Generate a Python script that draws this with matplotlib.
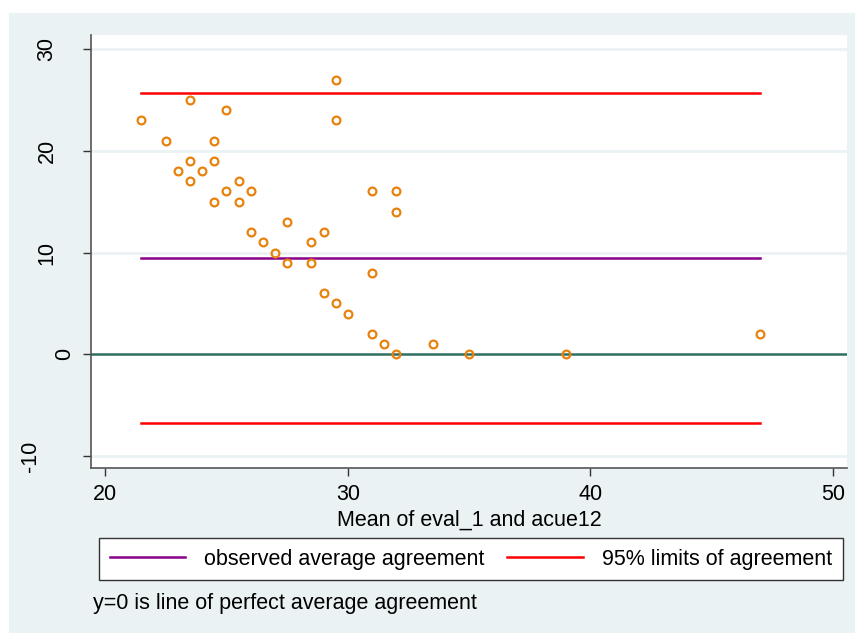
import matplotlib
matplotlib.use('Agg')
import matplotlib.pyplot as plt
from matplotlib.lines import Line2D
from matplotlib.patches import Rectangle
import matplotlib.transforms as mtransforms

plt.rcParams['font.family'] = ['Liberation Sans', 'DejaVu Sans']

# DATA: mean of the two evaluations vs. their difference
mean_vals = [21.5, 22.5, 23.5, 25, 23, 23.5, 23.5, 24, 24.5, 24.5, 24.5, 25, 25.5, 25.5,
             26, 26, 26.5, 27, 27.5, 27.5, 28.5, 28.5, 29, 29, 29.5, 30, 29.5, 29.5,
             31, 31, 31, 31.5, 32, 32, 32, 33.5, 35, 39, 47]
diff_vals = [23, 21, 25, 24, 18, 19, 17, 18, 21, 19, 15, 16, 17, 15,
             16, 12, 11, 10, 13, 9, 11, 9, 12, 6, 5, 4, 27, 23,
             16, 8, 2, 1, 16, 14, 0, 1, 0, 0, 2]
mean_diff = 9.43
lower_loa = -6.78
upper_loa = 25.65
line_span = [21.5, 47]

xticks = [20, 30, 40, 50]
yticks = [-10, 0, 10, 20, 30]

BG = '#EAF2F3'
W, H = 855, 633
FS = 15.5

fig = plt.figure(figsize=(8.55, 6.33), dpi=100)
fig.patch.set_facecolor('white')
fig.patches.append(Rectangle((9 / W, 0), 1 - 9 / W, (H - 13) / H, transform=fig.transFigure,
                             facecolor=BG, edgecolor='none', zorder=-10))

ax = fig.add_axes([91 / W, 1 - 468 / H, (847 - 91) / W, (468 - 35) / H])
ax.set_facecolor('white')
ax.set_xlim(19.42, 50.57)
ax.set_ylim(-11.18, 31.38)

# grid lines
for yv in yticks:
    if yv != 0:
        ax.axhline(yv, color=BG, lw=2, zorder=1)

ax.axhline(0, color='#2F6E63', lw=1.8, zorder=2)
ax.plot(line_span, [mean_diff, mean_diff], color='#8B008B', lw=1.8, zorder=3)
ax.plot(line_span, [upper_loa, upper_loa], color='#FF0000', lw=1.8, zorder=3)
ax.plot(line_span, [lower_loa, lower_loa], color='#FF0000', lw=1.8, zorder=3)
ax.plot(mean_vals, diff_vals, 'o', ms=5.6, mfc='none', mec='#E8820C', mew=1.6, zorder=4)

for s in ['top', 'right']:
    ax.spines[s].set_visible(False)
for s in ['left', 'bottom']:
    ax.spines[s].set_color('#555555')
    ax.spines[s].set_linewidth(1.2)

ax.set_xticks(xticks)
ax.set_yticks(yticks)
ax.tick_params(axis='both', direction='out', length=5.8, width=1, color='#333333',
               labelsize=FS)
ax.tick_params(axis='x', pad=6)
ax.tick_params(axis='y', labelleft=False)

# rotated y labels, shifted left with their length like the original
trans = mtransforms.blended_transform_factory(fig.transFigure, ax.transData)
for yv in yticks:
    lab = str(yv)
    xpx = 83 - 18 * len(lab)
    if lab.startswith('-'):
        xpx += 1.5
    ax.text(xpx / W, yv, lab, rotation=90, ha='center', va='center', fontsize=FS,
            transform=trans, clip_on=False)

ax.set_xlabel('Mean of eval_1 and acue12', fontsize=FS, labelpad=3)

handles = [Line2D([], [], color='#8B008B', lw=1.8),
           Line2D([], [], color='#FF0000', lw=1.8)]
labels = ['observed average agreement', '95% limits of agreement']
leg = fig.legend(handles, labels, loc='center', ncol=2, mode='expand',
                 bbox_to_anchor=(99 / W, 1 - 580 / H, (843 - 99) / W, 42 / H),
                 fontsize=FS, handlelength=3.5, handletextpad=0.9, borderaxespad=0,
                 borderpad=0.5, columnspacing=1.0, fancybox=False, framealpha=1,
                 edgecolor='#333333')
leg.get_frame().set_linewidth(1)

fig.text(93 / W, 1 - 603 / H, 'y=0 is line of perfect average agreement', fontsize=FS,
         ha='left', va='center')

fig.savefig('out.png', dpi=100)
